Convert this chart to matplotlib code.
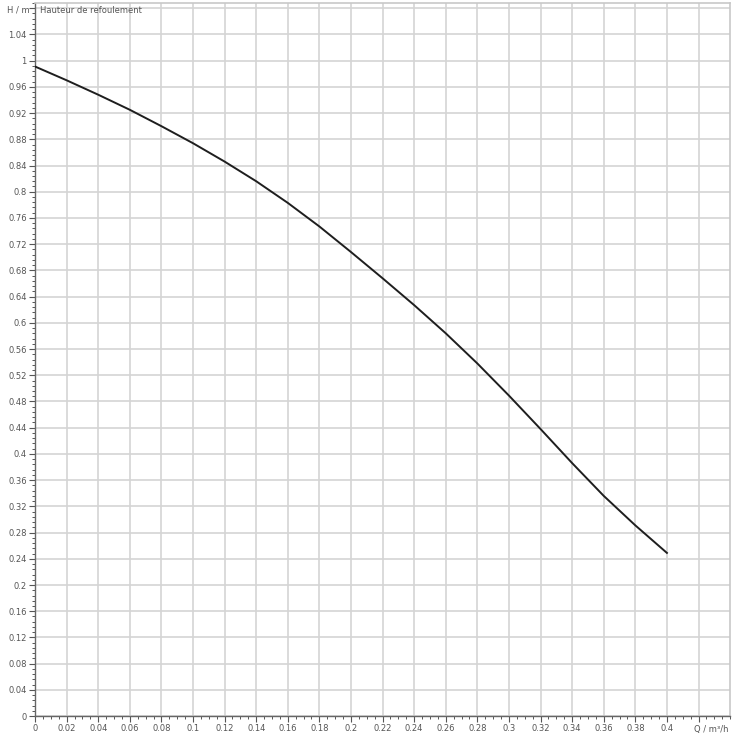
import numpy as np
import matplotlib.pyplot as plt
from matplotlib.ticker import MultipleLocator

# Pump curve
flow = [0.00, 0.02, 0.04, 0.06, 0.08, 0.10, 0.12, 0.14, 0.16, 0.18, 0.20,
        0.22, 0.24, 0.26, 0.28, 0.30, 0.32, 0.34, 0.36, 0.38, 0.40]
head = [0.991, 0.970, 0.948, 0.925, 0.900, 0.874, 0.846, 0.816, 0.783, 0.747, 0.708,
        0.668, 0.627, 0.584, 0.538, 0.489, 0.438, 0.386, 0.336, 0.291, 0.249]

x_ticks = np.round(np.arange(0, 0.42, 0.02), 2)
y_ticks = np.round(np.arange(0, 1.08, 0.04), 2)

def fmt(v):
    return f"{v:.2f}".rstrip("0").rstrip(".") if v != 0 else "0"

fig = plt.figure(figsize=(7.36, 7.36), dpi=100)
ax = fig.add_axes([0.0476, 0.027, 0.9444, 0.969])

ax.plot(flow, head, color="#1e1e1e", lw=1.4, zorder=3)

ax.set_xlim(0, 0.44)
ax.set_ylim(0, 1.088)

ax.set_xticks(np.round(np.arange(0, 0.44, 0.02), 2))
ax.set_xticklabels([fmt(v) for v in x_ticks] + [""])
ax.set_yticks(np.round(np.arange(0, 1.09, 0.04), 2))
ax.set_yticklabels([fmt(v) for v in y_ticks] + [""])
ax.xaxis.set_minor_locator(MultipleLocator(0.005))
ax.yaxis.set_minor_locator(MultipleLocator(0.008))

ax.grid(True, which="major", color="#d4d4d4", lw=1.2)
ax.tick_params(which="major", direction="out", length=4, width=0.8,
               colors="#555555", labelsize=6, labelcolor="#555555", pad=2)
ax.tick_params(which="minor", direction="out", length=2.5, width=0.7, colors="#555555")

for side in ["top", "right"]:
    ax.spines[side].set_color("#c8c8c8")
    ax.spines[side].set_linewidth(1.2)
for side in ["left", "bottom"]:
    ax.spines[side].set_color("#666666")
    ax.spines[side].set_linewidth(1.0)

fig.text(0.040, 0.986, "H / m", ha="right", va="center", fontsize=6, color="#555555")
ax.text(0.003, 1.076, "Hauteur de refoulement", ha="left", va="center",
        fontsize=6, color="#555555")
fig.text(0.966, 0.009, "Q / m³/h", ha="center", va="center", fontsize=6, color="#555555")

fig.savefig("out.png", dpi=100)
